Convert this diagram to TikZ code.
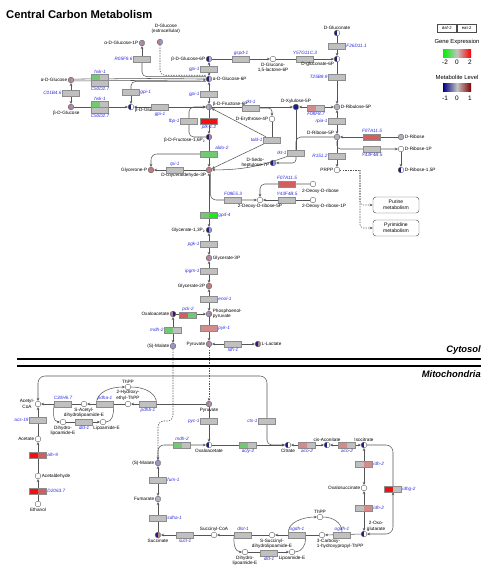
\documentclass[tikz,border=0pt]{standalone}
\usepackage{fontspec}
\setmainfont{Liberation Sans}
\usetikzlibrary{arrows.meta,calc,backgrounds}

% colours
\definecolor{lncol}{RGB}{85,85,85}
\definecolor{genecol}{RGB}{45,45,225}
\definecolor{egray}{RGB}{192,192,192}
\definecolor{eedge}{RGB}{140,140,140}
\definecolor{egreen}{RGB}{115,200,115}
\definecolor{ebgreen}{RGB}{25,235,25}
\definecolor{ered}{RGB}{245,15,15}
\definecolor{elred}{RGB}{210,95,95}
\definecolor{epink}{RGB}{210,140,140}
\definecolor{mblue}{RGB}{30,30,135}
\definecolor{mlblue}{RGB}{150,150,200}
\definecolor{mred}{RGB}{190,125,130}
\definecolor{mgray}{RGB}{178,178,190}
\definecolor{lgreen}{RGB}{0,240,0}
\definecolor{lred}{RGB}{250,0,0}
\definecolor{lgr}{RGB}{195,195,195}
\definecolor{lnavy}{RGB}{0,0,130}
\definecolor{ldred}{RGB}{130,0,0}

\tikzset{
  % enzyme box: left half daf-2, right half eat-2
  enz/.style 2 args={rectangle, draw=eedge, line width=0.3pt,
    minimum width=0.51cm, minimum height=0.18cm, inner sep=0pt,
    path picture={
      \fill[#1] (path picture bounding box.south west) rectangle (path picture bounding box.north);
      \fill[#2] (path picture bounding box.south) rectangle (path picture bounding box.north east);
    }},
  ez/.style={enz={egray}{egray}},
  % metabolite circle, same split
  met/.style 2 args={circle, draw=lncol, line width=0.3pt,
    minimum size=0.17cm, inner sep=0pt,
    path picture={
      \fill[#1] (path picture bounding box.south west) rectangle (path picture bounding box.north);
      \fill[#2] (path picture bounding box.south) rectangle (path picture bounding box.north east);
    }},
  mw/.style={met={white}{white}},
  lbl/.style={font=\fontsize{4}{4.6}\selectfont, inner sep=0.5pt},
  glbl/.style={lbl, text=genecol, font=\fontsize{4}{4.6}\selectfont\itshape},
  ln/.style={draw=lncol, line width=0.45pt},
  ar/.style={ln, -{Stealth[length=2.6pt,width=2.2pt]}},
  arr/.style={ln, {Stealth[length=2.6pt,width=2.2pt]}-{Stealth[length=2.6pt,width=2.2pt]}},
  dl/.style={ln, dash pattern=on 1.2pt off 1pt},
  dla/.style={dl, -{Stealth[length=2.6pt,width=2.2pt]}},
  pw/.style={draw=lncol, line width=0.4pt, rounded corners=2.5pt,
    minimum width=1.38cm, minimum height=0.48cm, align=center,
    inner sep=0pt, font=\fontsize{4.3}{5}\selectfont},
  ttl/.style={font=\fontsize{9.6}{11}\selectfont\bfseries, inner sep=0pt},
  comp/.style={font=\fontsize{8}{9}\selectfont\bfseries\itshape, inner sep=0pt},
  cline/.style={draw=black, line width=1.1pt},
  lgbox/.style={draw=black!70, line width=0.3pt, minimum width=0.585cm,
    minimum height=0.24cm, inner sep=0pt, font=\fontsize{3.6}{4}\selectfont},
  lgtxt/.style={font=\fontsize{5}{6}\selectfont, inner sep=0pt},
  lgnum/.style={font=\fontsize{5.5}{6}\selectfont, inner sep=0pt}
}

\begin{document}
\begin{tikzpicture}[x=0.03cm,y=-0.03cm]
\useasboundingbox (0,0) rectangle (500,575);
\begin{scope}[on background layer]
  \fill[white] (0,0) rectangle (500,575);
\end{scope}

% main glycolysis column
\def\cx{209}

% Title
\node[ttl,anchor=west] (title) at (6,14) {Central Carbon Metabolism};

% Legend
\node[lgbox] (daf) at (446.8,28) {daf-2};
\node[lgbox,anchor=west] (eat) at (daf.east) {eat-2};
\node[lgtxt] (gexp) at (457,42) {Gene Expression};
\shade[left color=lgreen,right color=lgr] (443,49) rectangle (457,57);
\shade[left color=lgr,right color=lred] (457,49) rectangle (471,57);
\node[lgnum] (gm2) at (445,62) {-2};
\node[lgnum] (gz) at (457,62) {0};
\node[lgnum] (gp2) at (470,62) {2};
\node[lgtxt] (mlev) at (457,77) {Metabolite Level};
\shade[left color=lnavy,right color=lgr] (443,83) rectangle (457,91);
\shade[left color=lgr,right color=ldred] (457,83) rectangle (471,91);
\node[lgnum] (mm1) at (445,98) {-1};
\node[lgnum] (mz) at (457,98) {0};
\node[lgnum] (mp1) at (470,98) {1};

% Glucose entry
\node[met={mlblue}{mred},label={[lbl]left:α-D-Glucose-1P}] (g1p) at (142,43) {};
\node[met={mred}{mlblue},label={[lbl,align=center,xshift=5pt,yshift=4pt]above:{D-Glucose\\(extracellular)}}] (glcx) at (160,42) {};
\node[ez,label={[glbl]left:R05F9.6}] (r05) at (142,59) {};
\node[met={mred}{mlblue},label={[lbl]left:α-D-Glucose}] (glc) at (71,80) {};
\node[ez,label={[glbl]left:C01B4.6}] (c01) at (71,93) {};
\node[met={mred}{mlblue},label={[lbl,xshift=-4pt]below:β-D-Glucose}] (bglc) at (71,107) {};
\node[enz={egreen}{egray},label={[glbl]above:hxk-1}] (hxka) at (100,77) {};
\node[ez,label={[glbl]below:C50D2.7}] (hxkb) at (100,83) {};
\node[enz={egreen}{egray},label={[glbl]above:hxk-1}] (hxkc) at (100,104) {};
\node[ez,label={[glbl]below:C50D2.7}] (hxkd) at (100,110) {};
\node[met={mblue}{white},label={[lbl,yshift=-3pt]right:β-D-Glucose-6P}] (bg6pl) at (131,107) {};
\node[ez,label={[glbl]right:gpi-1}] (gpia) at (131,92) {};
\node[ez,label={[glbl,yshift=-1pt]below:gpi-1}] (gpib) at (160,107) {};

% Glycolysis, upper part
\node[met={mblue}{mgray},label={[lbl]left:β-D-Glucose-6P}] (bg6p) at (\cx,59) {};
\node[ez,label={[glbl]left:gpi-1}] (gpic) at (\cx,69) {};
\node[met={mblue}{mgray},label={[lbl]right:α-D-Glucose-6P}] (ag6p) at (\cx,79) {};
\node[ez,label={[glbl]left:gpi-1}] (gpid) at (\cx,94) {};
\node[met={mgray}{mlblue},label={[lbl,yshift=2.5pt]right:β-D-Fructose-6P}] (bf6p) at (\cx,107) {};
\node[ez,label={[glbl]left:fbp-1}] (fbp) at (189,121) {};
\node[enz={ered}{ered},label={[glbl]below:pfk-1.2}] (pfk) at (\cx,121) {};
\node[met={mblue}{mred},label={[lbl,yshift=-2.5pt]left:{β-D-Fructose-1,6P\textsubscript{2}}}] (f16p) at (\cx,137) {};
\node[enz={egreen}{egreen},label={[glbl,xshift=2pt]above right:aldo-2}] (aldo) at (\cx,154) {};
\node[met={mred}{mred},label={[lbl]below left:D-Glyceraldehyde-3P}] (g3p) at (\cx,170) {};
\node[ez,label={[glbl]above:tpi-1}] (tpi) at (175,170) {};
\node[met={mred}{mred},label={[lbl]left:Glycerone-P}] (glyp) at (151,170) {};

% Pentose phosphate
\node[ez,label={[glbl]above:gspd-1}] (gspd) at (241,59) {};
\node[mw,label={[lbl,align=center]below:{D-Glucono-\\1,5-lactone-6P}}] (glac) at (273,59) {};
\node[ez,label={[glbl]above:Y57G11C.3}] (y57) at (305,59) {};
\node[met={mblue}{white},label={[lbl]below left:D-gluconate-6P}] (g6pn) at (337,59) {};
\node[met={mblue}{white},label={[lbl]above:D-Gluconate}] (glcn) at (337,33) {};
\node[ez,label={[glbl]right:F26D11.1}] (f26) at (337,46) {};
\node[ez,label={[glbl]left:T25B9.9}] (t25) at (337,77) {};
\node[met={mgray}{mgray},label={[lbl]right:D-Ribulose-5P}] (ru5p) at (337,107) {};
\node[ez,label={[glbl]above:tkt-1}] (tkt) at (251,108) {};
\node[met={mblue}{mblue},label={[lbl]above:D-Xylulose-5P}] (xu5p) at (296,107) {};
\node[enz={epink}{egray},label={[glbl]below:F08F8.7}] (f08f) at (316,108) {};
\node[mw,label={[lbl]left:D-Erythrose-4P}] (e4p) at (272,119) {};
\node[ez,label={[glbl]left:rpia-1}] (rpia) at (337,121) {};
\node[met={mgray}{mgray},label={[lbl]above left:D-Ribose-5P}] (r5p) at (337,137) {};
\node[enz={elred}{elred},label={[glbl]above:F07A11.5}] (f07a) at (372,137) {};
\node[met={mgray}{mgray},label={[lbl]right:D-Ribose}] (rib) at (401,137) {};
\node[ez,label={[glbl]below:Y43F4B.5}] (y43a) at (372,149) {};
\node[mw,label={[lbl]right:D-Ribose-1P}] (r1p) at (401,149) {};
\node[met={mblue}{white},label={[lbl]right:{D-Ribose-1,5P}}] (r15p) at (401,170) {};
\node[ez,label={[glbl]left:R151.2}] (r151) at (337,156) {};
\node[mw,label={[lbl]left:PRPP}] (prpp) at (337,170) {};
\node[ez,label={[glbl]left:tald-1}] (tald) at (272,140) {};
\node[ez,label={[glbl]left:tkt-1}] (tkt2) at (296,153) {};
\node[met={mblue}{mlblue},label={[lbl,align=center]left:{D-Sedo-\\heptulose-7P}}] (s7p) at (273,163) {};
\node[pw] (pur) at (396,205) {Purine\\metabolism};
\node[pw] (pyrim) at (396,228) {Pyrimidine\\metabolism};

% Deoxyribose
\node[enz={elred}{elred},label={[glbl]above:F07A11.5}] (f07b) at (287,184) {};
\node[mw,label={[lbl,anchor=north west,xshift=-10pt,yshift=-1.5pt]below:2-Deoxy-D-ribose}] (dr) at (313,184) {};
\node[ez,label={[glbl]above:Y43F4B.5}] (y43b) at (287,200) {};
\node[mw,label={[lbl,anchor=north west,xshift=-10pt]below:2-Deoxy-D-ribose-1P}] (dr1p) at (313,200) {};
\node[mw,label={[lbl]below:2-Deoxy-D-ribose-5P}] (dr5p) at (260,200) {};
\node[ez,label={[glbl]above:F08E5.3}] (f08e) at (233,200) {};

% Glycolysis, lower part
\node[enz={egreen}{ebgreen},label={[glbl]right:gpd-4}] (gpd) at (\cx,215) {};
\node[met={mblue}{mlblue},label={[lbl]left:{Glycerate-1,3P\textsubscript{2}}}] (g13p) at (\cx,230) {};
\node[ez,label={[glbl]left:pgk-1}] (pgk) at (\cx,244) {};
\node[met={mred}{mlblue},label={[lbl]right:Glycerate-3P}] (g3pa) at (\cx,258) {};
\node[ez,label={[glbl]left:ipgm-1}] (pgm) at (\cx,271) {};
\node[met={mred}{mred},label={[lbl]left:Glycerate-2P}] (g2p) at (\cx,286) {};
\node[ez,label={[glbl]right:enol-1}] (enol) at (\cx,299) {};
\node[met={mlblue}{mred},label={[lbl,align=left]right:{Phosphoenol-\\pyruvate}}] (pep) at (\cx,314) {};
\node[enz={elred}{egreen},label={[glbl]above:pck-2}] (pck) at (188,315) {};
\node[met={mred}{mblue},label={[lbl]left:Oxaloacetate}] (oaa) at (173,314) {};
\node[enz={egreen}{egray},label={[glbl]left:mdh-2}] (mdh) at (173,330) {};
\node[met={mlblue}{mlblue},label={[lbl]left:(S)-Malate}] (mal) at (173,346) {};
\node[enz={epink}{epink},label={[glbl]right:pyk-1}] (pyk) at (\cx,328) {};
\node[met={mred}{mlblue},label={[lbl]left:Pyruvate}] (pyr) at (\cx,344) {};
\node[ez,label={[glbl]below:ldh-1}] (ldh) at (233,344) {};
\node[met={mblue}{mred},label={[lbl]right:L-Lactate}] (lac) at (258,344) {};

% Compartments
\draw[cline] (17,359) -- (481,359);
\draw[cline] (17,366) -- (481,366);
\node[comp,anchor=south east] (cyt) at (481,355) {Cytosol};
\node[comp,anchor=north east] (mito) at (481,370) {Mitochondria};

% Mitochondria, TCA cycle
\node[met={mred}{mlblue},label={[lbl]below:Pyruvate}] (mpyr) at (\cx,404) {};
\node[ez,label={[glbl]left:pyc-1}] (pyc) at (\cx,421) {};
\node[met={mblue}{white},label={[lbl]below:Oxaloacetate}] (moaa) at (\cx,445) {};
\node[ez,label={[glbl]left:cts-1}] (cts) at (267,421) {};
\node[enz={egreen}{egray},label={[glbl]above:mdh-2}] (mdhm) at (182,445) {};
\node[enz={egreen}{egray},label={[glbl]below:acly-2}] (acly) at (248,445) {};
\node[met={mblue}{white},label={[lbl]below:Citrate}] (cit) at (288,445) {};
\node[enz={epink}{egray},label={[glbl]below:aco-2}] (aco) at (307,445) {};
\node[met={mblue}{white},label={[lbl]above:cis-Aconitate}] (cisa) at (327,445) {};
\node[enz={epink}{egray},label={[glbl]below:aco-2}] (acob) at (347,445) {};
\node[met={mblue}{white},label={[lbl]above:Isocitrate}] (icit) at (364,445) {};
\node[enz={egray}{epink},label={[glbl]right:idh-2}] (idh) at (364,464) {};
\node[mw,label={[lbl]left:Oxalosuccinate}] (oxs) at (364,488) {};
\node[enz={egray}{epink},label={[glbl]right:idh-2}] (idhb) at (364,508) {};
\node[met={mblue}{white},label={[lbl,align=center]above right:{2-Oxo-\\glutarate}}] (akg) at (364,534) {};
\node[enz={ered}{egray},label={[glbl]right:idhg-2}] (idhg) at (393,489) {};
\node[met={mlblue}{mlblue},label={[lbl]left:(S)-Malate}] (mmal) at (158,463) {};
\node[ez,label={[glbl]right:fum-1}] (fum) at (158,480) {};
\node[met={mgray}{mgray},label={[lbl]left:Fumarate}] (fumr) at (158,499) {};
\node[ez,label={[glbl]right:sdha-1}] (sdh) at (158,518) {};
\node[met={mblue}{mred},label={[lbl]below:Succinate}] (succ) at (158,535) {};
\node[ez,label={[glbl]below:sucl-1}] (sucl) at (185,535) {};
\node[mw,label={[lbl]above:Succinyl-CoA}] (sucoa) at (214,535) {};
\node[ez,label={[glbl]above:dlst-1}] (dlst) at (243,535) {};
\node[mw,label={[lbl,align=center]below:{S-Succinyl-\\dihydrolipoamide-E}}] (ssdl) at (272,535) {};
\node[ez,label={[glbl]above:ogdh-1}] (ogdh) at (297,535) {};
\node[mw,label={[lbl,align=left,anchor=north west,xshift=-5pt]below:{3-Carboxy-\\1-hydroxypropyl-ThPP}}] (chp) at (322,535) {};
\node[ez,label={[glbl]above:ogdh-1}] (ogdhb) at (342,535) {};
\node[mw,label={[lbl]above:ThPP}] (thppb) at (320,517) {};
\node[mw,label={[lbl,align=center]below:{Dihydro-\\lipoamide-E}}] (dhlb) at (245,552) {};
\node[ez,label={[glbl]below:dld-1}] (dldb) at (269,553) {};
\node[mw,label={[lbl]below:Lipoamide-E}] (lipb) at (292,552) {};

% Mitochondria, pyruvate to acetyl-CoA
\node[mw,label={[lbl,align=center]left:{Acetyl-\\CoA}}] (acoa) at (38,404) {};
\node[ez,label={[glbl]above:C30H6.7}] (c30) at (63,404) {};
\node[mw,label={[lbl,align=center]below:{S-Acetyl-\\dihydrolipoamide-E}}] (sadl) at (84,404) {};
\node[ez,label={[glbl]above:pdha-1}] (pdha) at (105,404) {};
\node[mw,label={[lbl,align=center]above:{2-Hydroxy-\\ethyl-ThPP}}] (hthpp) at (128,404) {};
\node[mw,label={[lbl]above:ThPP}] (thpp) at (128,387) {};
\node[ez,label={[glbl]below:pdhb-1}] (pdhb) at (148,404) {};
\node[mw,label={[lbl,align=center]below:{Dihydro-\\lipoamide-E}}] (dhl) at (63,422) {};
\node[ez,label={[glbl]below:dld-1}] (dld) at (84,422) {};
\node[mw,label={[lbl,xshift=3pt]below:Lipoamide-E}] (lip) at (103,422) {};
\node[ez,label={[glbl]left:acs-19}] (acs) at (38,420) {};
\node[mw,label={[lbl]left:Acetate}] (ace) at (38,439) {};
\node[enz={ered}{elred},label={[glbl]right:alh-9}] (alh) at (38,455) {};
\node[mw,label={[lbl]right:Acetaldehyde}] (acal) at (38,476) {};
\node[enz={ered}{elred},label={[glbl]right:D2063.7}] (d20) at (38,491) {};
\node[mw,label={[lbl]below:Ethanol}] (etoh) at (38,504) {};

\begin{scope}[on background layer]
% glucose to glucose-6P
\draw[ln] ([yshift=0.8pt]glc.east) -- ([yshift=0.8pt]ag6p.west);
\draw[ar] ([yshift=-0.8pt]glc.east) -- ([yshift=-0.8pt]ag6p.west);
\draw[ln,rounded corners=4pt] (r05) |- ([yshift=2pt]ag6p.west);
\draw[dl,rounded corners=4pt] (glcx) |- ([yshift=3.2pt]ag6p.west);
\draw[ln,rounded corners=4pt] (gpia) |- ([yshift=-2pt]ag6p.west);
\draw[ar] (r05) -- (g1p);
\draw[ar] (gpia) -- (bg6pl);
\draw[arr] (glc) -- (bglc);
\draw[ar] (bglc) -- (bg6pl);
\draw[arr] (bg6pl) -- (bf6p);
% glycolysis
\draw[arr] (bg6p) -- (ag6p);
\draw[arr] (ag6p) -- (bf6p);
\draw[ar] (bf6p) -- (f16p);
\draw[ar,rounded corners=4pt] (f16p) -| (fbp) |- (bf6p);
\draw[ar] (f16p) -- (g3p);
\draw[ar,rounded corners=5pt] (aldo) -| (glyp);
\draw[ar] (g3p) -- (glyp);
\draw[arr] (g3p) -- (g13p);
\draw[arr] (g13p) -- (g3pa);
\draw[arr] (g3pa) -- (g2p);
\draw[arr] (g2p) -- (pep);
\draw[ar] (pep) -- (pyr);
\draw[ar] (oaa) -- (pep);
\draw[arr] (mal) -- (oaa);
\draw[arr] (pyr) -- (lac);
% pentose phosphate
\draw[ar] (bg6p) -- (glac);
\draw[ar] (glac) -- (g6pn);
\draw[ar] (glcn) -- (g6pn);
\draw[ar] (g6pn) -- (ru5p);
\draw[ar] (bf6p) -- (xu5p);
\draw[ar,rounded corners=3pt] (tkt) -| (e4p);
\draw[arr] (xu5p) -- (ru5p);
\draw[arr] (ru5p) -- (r5p);
\draw[ar] (rib) -- (r5p);
\draw[ar] (r5p) -- (prpp);
\coordinate (r5pj) at (337,141);
\draw[ar,rounded corners=3pt] (r5pj) |- (r1p);
\draw[ar] (r1p) -- (r15p);
\draw[ln] (e4p) -- (tald);
\draw[ar] (tald) -- (bf6p);
\draw[ar] (tald) -- (g3p);
\draw[ar] (tkt2) to[bend left=10] (g3p);
\draw[ln] (xu5p) -- (tkt2);
\draw[ln,rounded corners=4pt] (r5p) -| (tkt2);
\draw[ar,rounded corners=3pt] (tkt2) |- (s7p);
\coordinate (prj) at (360,170);
\draw[dl] (prpp) -- (prj);
\draw[dla,rounded corners=3pt] (prj) |- (pur);
\draw[dla,rounded corners=3pt] (prj) |- (pyrim);
% deoxyribose
\draw[ar,rounded corners=5pt] ([xshift=1.2pt]g3p.south) |- (dr5p);
\draw[ar,rounded corners=4pt] (dr) -| (dr5p);
\draw[ar] (dr1p) -- (dr5p);
% transport
\draw[dla] (pyr) -- (mpyr);
\coordinate (malj) at (173,421);
\draw[dla,rounded corners=5pt] (mal) -- (malj) -| (mmal);
% pyruvate dehydrogenase
\draw[ar] (mpyr) -- (moaa);
\draw[ar] (mpyr) -- (hthpp);
\draw[ar] (pdha.west) to[out=90,in=180] (thpp);
\draw[ln] (thpp) to[out=0,in=90] (pdhb.east);
\draw[ar] (hthpp) -- (sadl);
\draw[ar] (sadl) -- (acoa);
\draw[ar] (c30.west) to[out=-100,in=180] (dhl);
\draw[ar] (dhl) -- (lip);
\draw[ln] (lip) to[out=0,in=-90] (pdha.south east);
\draw[ar] (ace) -- (acoa);
\draw[ar] (acal) -- (ace);
\draw[ar] (etoh) -- (acal);
\coordinate (acj) at (38,376);
\draw[ar,rounded corners=6pt] (cts) |- (acj) -- (acoa);
% TCA cycle
\draw[ar,rounded corners=4pt] (cts) |- (cit);
\draw[ar,rounded corners=5pt] (mmal) |- (moaa);
\draw[ar] (moaa) -- (cit);
\draw[arr] (cit) -- (cisa);
\draw[arr] (cisa) -- (icit);
\draw[arr] (icit) -- (oxs);
\draw[arr] (oxs) -- (akg);
\draw[arr,rounded corners=6pt] (icit) -| (idhg) |- (akg);
\draw[ar] (akg) -- (chp);
\draw[ar] (chp) -- (ssdl);
\draw[ar] (ssdl) -- (sucoa);
\draw[ar] (sucoa) -- (succ);
\draw[ar] (succ) -- (fumr);
\draw[arr] (fumr) -- (mmal);
\draw[ar] (ogdh.west) to[out=100,in=180] (thppb);
\draw[ln] (thppb) to[out=0,in=90] (ogdhb.north);
\draw[ar] (dlst.west) to[out=-100,in=180] (dhlb);
\draw[ar] (dhlb) -- (lipb);
\draw[ln] (lipb) to[out=0,in=-90] (ogdh.south east);
\end{scope}

\end{tikzpicture}
\end{document}
